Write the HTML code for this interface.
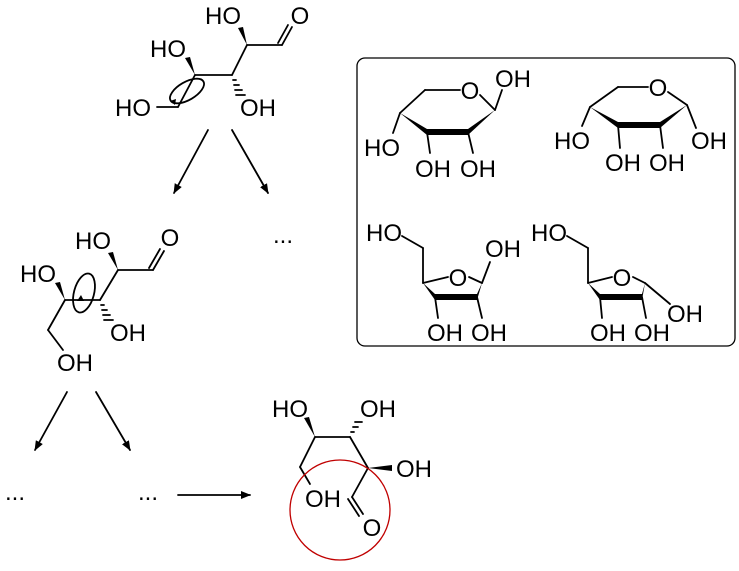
<!DOCTYPE html>
<html><head><meta charset="utf-8"><style>
html,body{margin:0;padding:0;background:#fff;}
svg text{font-family:"Liberation Sans",Arial,sans-serif;font-size:24px;fill:#000;text-anchor:middle;}
</style></head><body>
<svg width="739" height="566" viewBox="0 0 739 566" xmlns="http://www.w3.org/2000/svg">
<defs>
<marker id="ah" markerWidth="10" markerHeight="8" refX="9" refY="4" orient="auto" markerUnits="userSpaceOnUse">
<path d="M0,0 L10,4 L0,8 z" fill="#000"/></marker>
</defs>
<g stroke="#000" stroke-width="1.8" fill="none" stroke-linecap="round">
<line x1="247" y1="45" x2="282" y2="45"/>
<line x1="282" y1="45" x2="292" y2="27"/>
<line x1="278" y1="43" x2="288" y2="25"/>
<line x1="247" y1="45" x2="232" y2="75"/>
<line x1="232" y1="75" x2="195" y2="75"/>
<line x1="195" y1="75" x2="178" y2="107"/>
<line x1="178" y1="107" x2="157" y2="107"/>
<ellipse cx="187" cy="91" rx="19" ry="9" transform="rotate(-30 187 91)"/>
<line x1="208" y1="130" x2="174" y2="193" marker-end="url(#ah)"/>
<line x1="232" y1="130" x2="268" y2="193" marker-end="url(#ah)"/>
<path d="M233,80 l3,0 M234,85 l5,0 M235,90 l7,0 M236,95 l9,0" />
<line x1="118" y1="270" x2="153" y2="270"/>
<line x1="153" y1="270" x2="164" y2="251"/>
<line x1="149" y1="268" x2="160" y2="249"/>
<line x1="118" y1="270" x2="100" y2="300"/>
<line x1="100" y1="300" x2="65" y2="300"/>
<line x1="65" y1="300" x2="48" y2="330"/>
<line x1="48" y1="330" x2="63" y2="350"/>
<ellipse cx="84" cy="293" rx="10" ry="20" transform="rotate(15 84 293)"/>
<path d="M101,305 l3,0 M102,310 l5,0 M103,315 l7,0 M104,320 l9,0"/>
<line x1="67" y1="392" x2="35" y2="450" marker-end="url(#ah)"/>
<line x1="96" y1="392" x2="130" y2="450" marker-end="url(#ah)"/>
<line x1="178" y1="495" x2="250" y2="495" marker-end="url(#ah)"/>
<line x1="315" y1="437" x2="350" y2="437"/>
<line x1="350" y1="437" x2="368" y2="468"/>
<line x1="368" y1="468" x2="352" y2="497"/>
<line x1="352" y1="497" x2="363" y2="514"/>
<line x1="348" y1="499" x2="359" y2="516"/>
<line x1="315" y1="437" x2="300" y2="467"/>
<line x1="300" y1="467" x2="310" y2="484"/>
<path d="M351,432 l3,0 M353,427 l5,0 M355,422 l7,0"/>
<circle cx="340" cy="510" r="50" stroke="#c00000" stroke-width="1.3"/>
<rect x="357" y="58" width="378" height="288" rx="8" stroke-width="1.3"/>
<line x1="425" y1="90" x2="460" y2="90"/>
<line x1="425" y1="90" x2="400" y2="113"/>
<line x1="480" y1="95" x2="495" y2="110"/>
<line x1="495" y1="110" x2="502" y2="90"/>
<line x1="400" y1="113" x2="393" y2="133"/>
<line x1="427" y1="132" x2="430" y2="153"/>
<line x1="468" y1="132" x2="473" y2="153"/>
<line x1="618" y1="87" x2="648" y2="87"/>
<line x1="618" y1="87" x2="590" y2="107"/>
<line x1="668" y1="92" x2="687" y2="105"/>
<line x1="687" y1="105" x2="696" y2="128"/>
<line x1="590" y1="107" x2="582" y2="126"/>
<line x1="618" y1="125" x2="620" y2="148"/>
<line x1="660" y1="125" x2="663" y2="148"/>
<line x1="402" y1="236" x2="423" y2="248"/>
<line x1="423" y1="248" x2="423" y2="283"/>
<line x1="423" y1="283" x2="448" y2="277"/>
<line x1="469" y1="277" x2="482" y2="283"/>
<line x1="482" y1="283" x2="490" y2="262"/>
<line x1="435" y1="297" x2="438" y2="318"/>
<line x1="477" y1="297" x2="482" y2="318"/>
<line x1="567" y1="236" x2="588" y2="248"/>
<line x1="588" y1="248" x2="588" y2="283"/>
<line x1="588" y1="283" x2="612" y2="277"/>
<line x1="633" y1="277" x2="645" y2="283"/>
<line x1="645" y1="283" x2="670" y2="304"/>
<line x1="600" y1="297" x2="602" y2="318"/>
<line x1="642" y1="297" x2="646" y2="318"/>
</g>
<g fill="#000">
<path d="M170,101 l6,-2 l-1,6 z"/>
<path d="M77,301 l4,-6 l3,6 z"/>
<path d="M247,45 L238,28 L243,27 z"/>
<path d="M195,75 L185,58 L190,57 z"/>
<path d="M118,270 L108,253 L113,252 z"/>
<path d="M65,300 L55,283 L60,282 z"/>
<path d="M315,437 L304,418 L309,417 z"/>
<path d="M368,468 L392,465 L392,471 z"/>
<path d="M400,113 L427,129 L427,135 z"/>
<path d="M427,129 L468,129 L468,135 L427,135 z"/>
<path d="M468,135 L495,110 L468,129 z"/>
<path d="M590,107 L618,122 L618,128 z"/>
<path d="M618,122 L660,122 L660,128 L618,128 z"/>
<path d="M660,128 L687,105 L660,122 z"/>
<path d="M423,283 L435,294 L435,300 z"/>
<path d="M435,294 L477,294 L477,300 L435,300 z"/>
<path d="M477,300 L482,283 L477,294 z"/>
<path d="M588,283 L600,294 L600,300 z"/>
<path d="M600,294 L642,294 L642,300 L600,300 z"/>
<path d="M642,300 L645,283 L642,294 z"/>
</g>
<text x="223" y="24">HO</text><text x="300" y="24">O</text>
<text x="168" y="57">HO</text>
<text x="133" y="116">HO</text><text x="258" y="116">OH</text>
<text x="283" y="243">...</text>
<text x="93" y="249">HO</text><text x="170" y="246">O</text>
<text x="38" y="282">HO</text>
<text x="128" y="341">OH</text>
<text x="75" y="371">OH</text>
<text x="15" y="500">...</text><text x="148" y="500">...</text>
<text x="290" y="417">HO</text><text x="378" y="417">OH</text>
<text x="414" y="477">OH</text>
<text x="323" y="507">OH</text>
<text x="372" y="536">O</text>
<text x="470" y="99">O</text><text x="513" y="87">OH</text>
<text x="382" y="156">HO</text><text x="433" y="177">OH</text><text x="478" y="177">OH</text>
<text x="658" y="96">O</text>
<text x="572" y="149">HO</text><text x="623" y="171">OH</text><text x="667" y="171">OH</text><text x="709" y="149">OH</text>
<text x="384" y="241">HO</text><text x="458" y="286">O</text><text x="503" y="257">OH</text>
<text x="445" y="341">OH</text><text x="489" y="341">OH</text>
<text x="549" y="241">HO</text><text x="622" y="286">O</text><text x="685" y="322">OH</text>
<text x="608" y="341">OH</text><text x="652" y="341">OH</text>
</svg>
</body></html>
